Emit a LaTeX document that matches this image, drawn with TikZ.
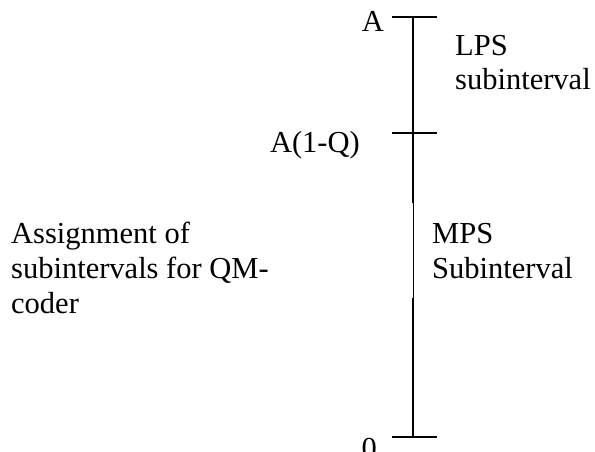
\documentclass[tikz,border=0pt]{standalone}
\usepackage{fontspec}
\setmainfont{Liberation Serif}
\begin{document}
\begin{tikzpicture}[x=1pt, y=-1pt,
    axisline/.style={line width=1.8pt},
    thinline/.style={line width=0.9pt},
    lbl/.style={font=\fontsize{30.5}{35}\selectfont, inner sep=0pt, align=left}
]
\useasboundingbox (0,0) rectangle (595,452);
% interval axis
\coordinate (top) at (413,17);
\coordinate (mid) at (413,133);
\coordinate (gapa) at (413,203);
\coordinate (gapb) at (413,298);
\coordinate (bot) at (413,437);
\draw[axisline] (top) -- (gapa);
\draw[thinline] (gapa) -- (gapb);
\draw[axisline] (gapb) -- (bot);
\draw[axisline] ([xshift=-21pt]top) -- ([xshift=24pt]top);
\draw[axisline] ([xshift=-21pt]mid) -- ([xshift=24pt]mid);
\draw[axisline] ([xshift=-21pt]bot) -- ([xshift=24pt]bot);
% end labels
\node[lbl, anchor=base east] (la) at (384,32) {A};
\node[lbl, anchor=base east] (laq) at (360,152) {A(1-Q)};
\node[lbl, anchor=base east] (lzero) at (377,458) {0};
% subintervals
\node[lbl, anchor=base west] (lps) at (455,90) {LPS\\subinterval};
\node[lbl, anchor=base west] (mps) at (432,278) {MPS\\Subinterval};
% caption
\node[lbl, anchor=base west] (cap) at (11,313) {Assignment of\\subintervals for QM-\\coder};
\end{tikzpicture}
\end{document}
